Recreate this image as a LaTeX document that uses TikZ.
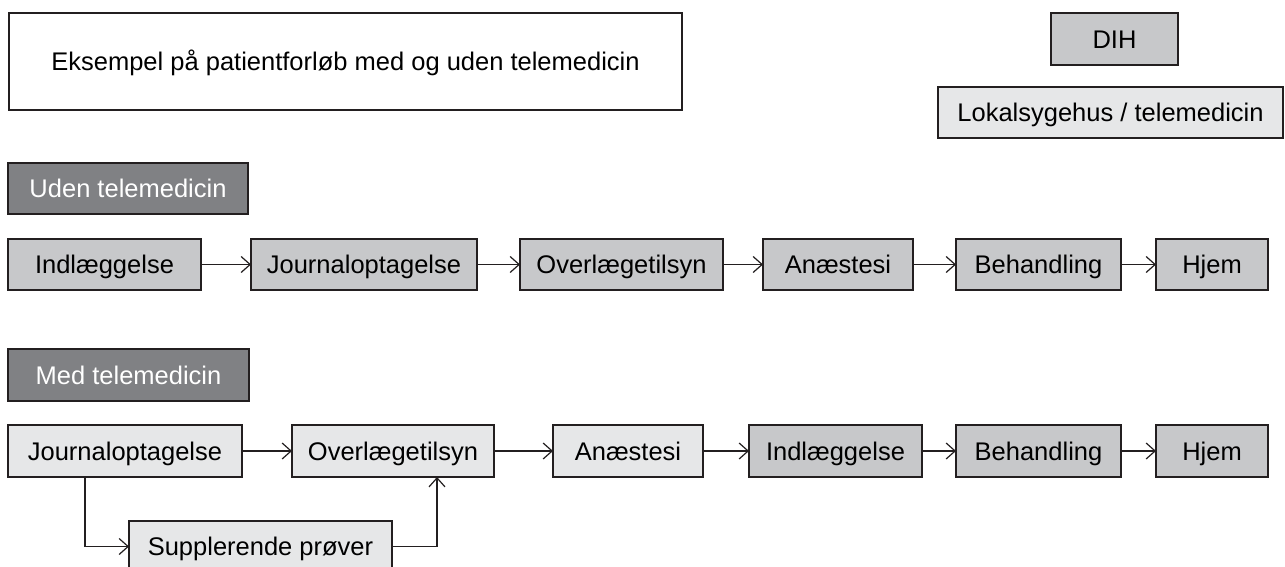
\documentclass[tikz,border=0pt]{standalone}
\usepackage{fontspec}
\setmainfont{Liberation Sans}
\usetikzlibrary{arrows.meta}
\definecolor{midgray}{HTML}{C7C8CA}
\definecolor{lightgray}{HTML}{E6E7E8}
\definecolor{darkgray}{HTML}{808184}
\definecolor{edge}{HTML}{231F20}
\begin{document}
\begin{tikzpicture}[x=1pt,y=-1pt,
  every node/.style={font=\fontsize{25.5}{30}\selectfont, inner sep=0pt, outer sep=0pt,
    text height=18.2pt, text depth=0pt},
  basebox/.style={draw=edge, line width=1.7pt, anchor=center},
  midbox/.style={basebox, fill=midgray},
  lightbox/.style={basebox, fill=lightgray},
  headbox/.style={basebox, fill=darkgray, text=white},
  titlebox/.style={basebox, fill=white},
  arr/.style={draw=edge, line width=1.2pt, -{Straight Barb[length=9pt,width=16pt,line width=1.2pt]}}
]
\useasboundingbox (0,0) rectangle (1285,567);
\fill[white] (0,0) rectangle (1285,567);

% title and legend
\node[titlebox, minimum width=673pt, minimum height=97pt] (title) at (345.5,61.5) {Eksempel på patientforløb med og uden telemedicin};
\node[midbox, minimum width=127pt, minimum height=52pt] (dih) at (1114.5,39) {DIH};
\node[lightbox, minimum width=345pt, minimum height=51pt] (lok) at (1110.5,112.5) {Lokalsygehus / telemedicin};

% headers
\node[headbox, minimum width=240pt, minimum height=51pt] (hd1) at (128,188.5) {Uden telemedicin};
\node[headbox, minimum width=241pt, minimum height=52pt] (hd2) at (128.5,375) {Med telemedicin};

% row 1
\node[midbox, minimum width=193pt, minimum height=51pt] (r1a) at (104.5,264.5) {Indlæggelse};
\node[midbox, minimum width=226pt, minimum height=51pt] (r1b) at (364,264.5) {Journaloptagelse};
\node[midbox, minimum width=203pt, minimum height=51pt] (r1c) at (621.5,264.5) {Overlægetilsyn};
\node[midbox, minimum width=150pt, minimum height=51pt] (r1d) at (838,264.5) {Anæstesi};
\node[midbox, minimum width=165pt, minimum height=51pt] (r1e) at (1038.5,264.5) {Behandling};
\node[midbox, minimum width=112pt, minimum height=51pt] (r1f) at (1212,264.5) {Hjem};

\draw[arr] (r1a.east) -- (r1b.west);
\draw[arr] (r1b.east) -- (r1c.west);
\draw[arr] (r1c.east) -- (r1d.west);
\draw[arr] (r1d.east) -- (r1e.west);
\draw[arr] (r1e.east) -- (r1f.west);

% row 2
\node[lightbox, minimum width=234pt, minimum height=52pt] (r2a) at (125,451) {Journaloptagelse};
\node[lightbox, minimum width=202pt, minimum height=52pt] (r2b) at (393,451) {Overlægetilsyn};
\node[lightbox, minimum width=150pt, minimum height=52pt] (r2c) at (628,451) {Anæstesi};
\node[midbox, minimum width=173pt, minimum height=52pt] (r2d) at (835.5,451) {Indlæggelse};
\node[midbox, minimum width=165pt, minimum height=52pt] (r2e) at (1038.5,451) {Behandling};
\node[midbox, minimum width=112pt, minimum height=52pt] (r2f) at (1212,451) {Hjem};
\node[lightbox, minimum width=263pt, minimum height=51pt] (sup) at (260.5,546.5) {Supplerende prøver};

\draw[arr] (r2a.east) -- (r2b.west);
\draw[arr] (r2b.east) -- (r2c.west);
\draw[arr] (r2c.east) -- (r2d.west);
\draw[arr] (r2d.east) -- (r2e.west);
\draw[arr] (r2e.east) -- (r2f.west);

\coordinate (down) at ([xshift=77pt]r2a.south west);
\coordinate (up) at ([xshift=145pt]r2b.south west);
\draw[arr] (down) |- (sup.west);
\draw[arr] (sup.east) -| (up);
\end{tikzpicture}
\end{document}
